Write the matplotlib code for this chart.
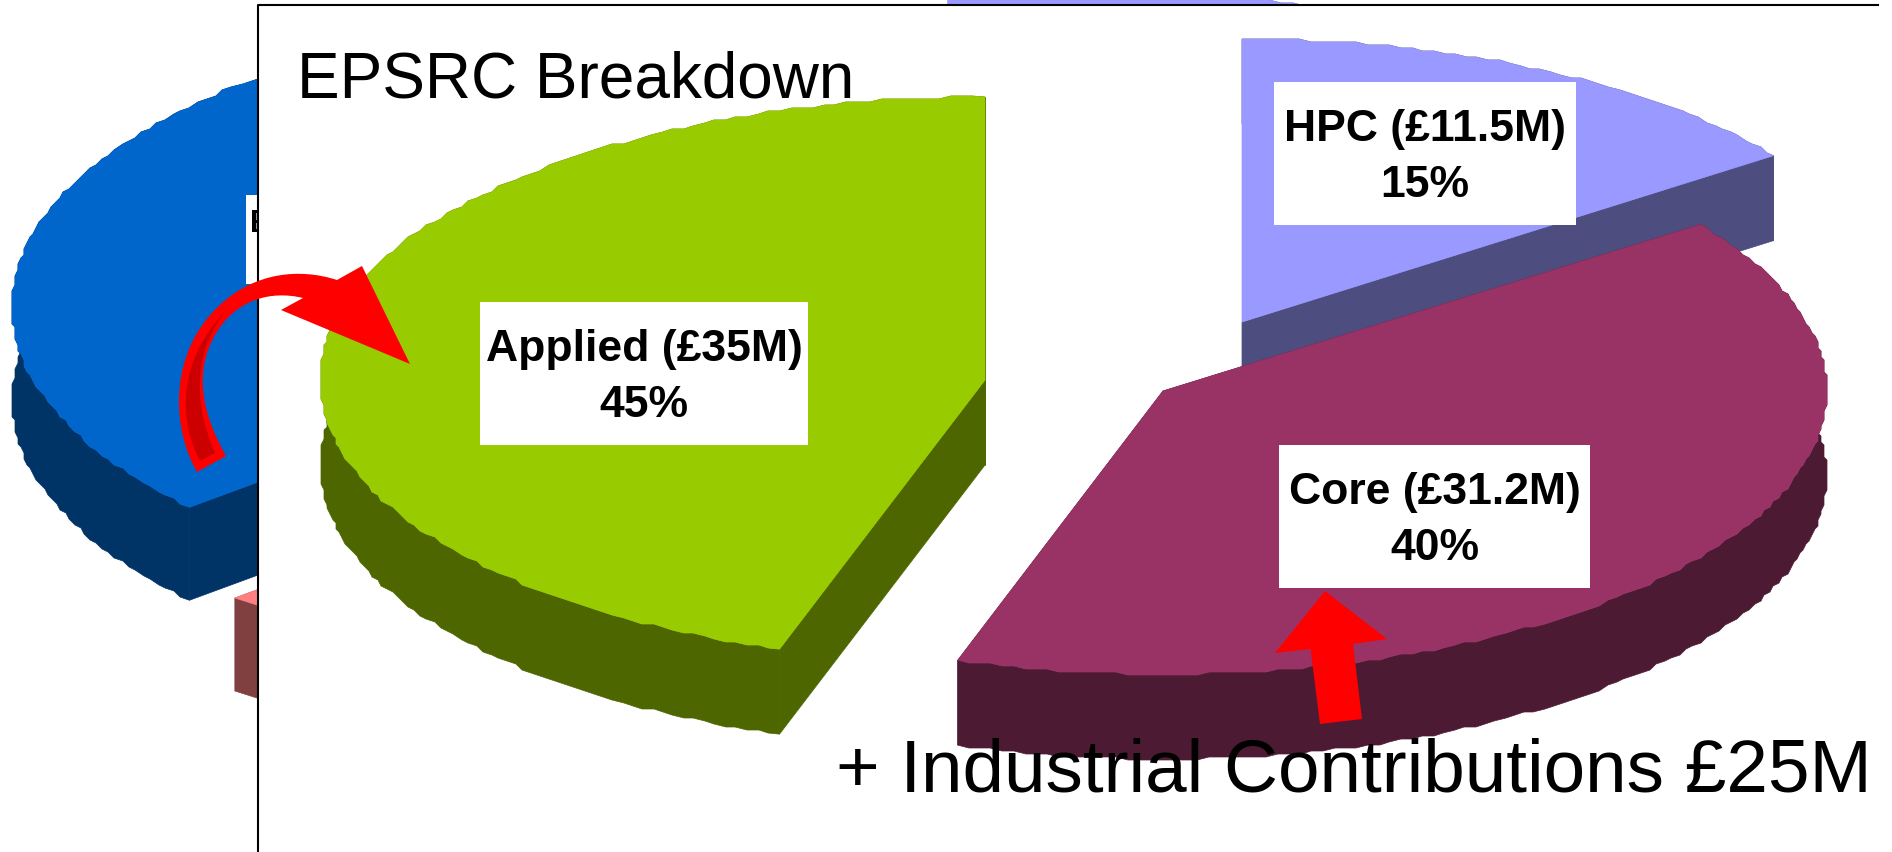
import numpy as np
import matplotlib
matplotlib.use("Agg")
import matplotlib.pyplot as plt
from matplotlib.patches import PathPatch, Polygon, Rectangle
from matplotlib.path import Path

plt.rcParams["font.family"] = ["Liberation Sans", "DejaVu Sans"]

# EPSRC chart, in clockwise order from the top of the pie
slice_names = ["HPC", "Core", "Applied"]
slice_money = ["£11.5M", "£31.2M", "£35M"]
slice_shares = [15, 40, 45]
slice_tops = ["#9999FF", "#993366", "#99CC00"]
slice_sides = ["#4D4D80", "#4D1A33", "#4D6600"]

# slide behind the panel, shares read from the visible edges
back_names = ["Lavender", "Pink", "Blue"]
back_shares = [13.6, 21.7, 31.4]
back_starts = [0, 13.6, 63.6]
back_tops = ["#9999FF", "#FF8080", "#0066CC"]
back_sides = ["#4D4D80", "#804040", "#003366"]

title_text = "EPSRC Breakdown"
extra_text = "+ Industrial Contributions £25M"


def pie_slice(ax, apex, rx, ry, depth, start, share, top, side, z):
    """ one exploded slice of a 3D pie, share and start in percent """
    t = np.radians(np.linspace(start * 3.6, (start + share) * 3.6, int(share * 3.6) + 1))
    xs = apex[0] + rx * np.sin(t)
    ys = apex[1] - ry * np.cos(t)
    # the rim of the original is stepped, not smooth
    xs[1:-1] = np.round(xs[1:-1] / 3) * 3
    ys[1:-1] = np.round(ys[1:-1] / 3) * 3
    rim = np.column_stack([xs, ys])
    drop = np.array([0, depth])
    wall = np.vstack([rim, (rim + drop)[::-1]])
    ax.add_patch(Polygon(wall, closed=True, facecolor=side, edgecolor=side, linewidth=0.5, zorder=z))
    for end in (rim[0], rim[-1]):
        side_wall = [apex, end, end + drop, np.array(apex) + drop]
        ax.add_patch(Polygon(side_wall, closed=True, facecolor=side, edgecolor=side, linewidth=0.5, zorder=z))
    face = np.vstack([[apex], rim])
    ax.add_patch(Polygon(face, closed=True, facecolor=top, edgecolor=top, linewidth=0.5, zorder=z + 0.5))


fig = plt.figure(figsize=(18.92, 8.52), dpi=100)
ax = fig.add_axes([0, 0, 1, 1])
ax.set_xlim(0, 1892)
ax.set_ylim(852, 0)
ax.axis("off")

## backdrop slide
back_apex = [(948, 272), (235, 598), (734, 307)]
for i in range(3):
    pie_slice(ax, back_apex[i], 722, 305, 93, back_starts[i], back_shares[i], back_tops[i], back_sides[i], 1 + i)
ax.add_patch(Rectangle((246, 195), 20, 89, facecolor="white", zorder=5))
ax.text(250, 232, "E", fontsize=22, fontweight="bold", ha="left", va="baseline", zorder=5.5)

## white panel on top, only its left and top border show
ax.add_patch(Rectangle((257.5, 5), 1700, 900, facecolor="white", edgecolor="none", zorder=6))
ax.plot([257.5, 257.5, 1878], [852, 5, 5], color="black", linewidth=1.5, zorder=6.5)

## EPSRC pie
apex = [(1242, 322), (1163, 391), (985, 380)]
radius = [657, 664, 665]
start = 0
for i in range(3):
    pie_slice(ax, apex[i], radius[i], 283, 85, start, slice_shares[i], slice_tops[i], slice_sides[i], 7 + i)
    start = start + slice_shares[i]

## labels
boxes = [(1274, 82, 302, 143), (1279, 445, 311, 143), (480, 302, 328, 143)]
for i in range(3):
    x, y, w, h = boxes[i]
    ax.add_patch(Rectangle((x, y), w, h, facecolor="white", zorder=11))
    ax.text(x + w / 2, y + h / 2 + 4, f"{slice_names[i]} ({slice_money[i]})\n{slice_shares[i]}%",
            fontsize=32, fontweight="bold", ha="center", va="center", linespacing=1.49, zorder=12)

ax.text(297, 98, title_text, fontsize=46, ha="left", va="baseline", zorder=12)
ax.text(836, 792, extra_text, fontsize=53.8, ha="left", va="baseline", zorder=12)

## red arrows
ax.add_patch(Polygon([(1325, 591), (1387, 639), (1353, 644), (1362, 719), (1320, 724), (1310.5, 649), (1275, 653)],
                     closed=True, facecolor="#FF0000", edgecolor="none", zorder=13))

curve_pts = [(197, 472), (170, 425), (170, 350), (220, 305),
             (255, 272), (300, 268), (337, 280),
             (362, 266), (410, 364), (281, 310), (303, 298),
             (270, 290), (235, 300), (215, 335),
             (195, 370), (200, 410), (226, 456), (197, 472)]
curve_codes = [Path.MOVETO, Path.CURVE4, Path.CURVE4, Path.CURVE4,
               Path.CURVE4, Path.CURVE4, Path.CURVE4,
               Path.LINETO, Path.LINETO, Path.LINETO, Path.LINETO,
               Path.CURVE4, Path.CURVE4, Path.CURVE4,
               Path.CURVE4, Path.CURVE4, Path.CURVE4, Path.CLOSEPOLY]
ax.add_patch(PathPatch(Path(curve_pts, curve_codes), facecolor="#FF0000", edgecolor="none", zorder=13))

inner_pts = [(200, 461), (178, 420), (178, 360), (225, 312),
             (195, 350), (192, 400), (215, 453), (200, 461)]
inner_codes = [Path.MOVETO, Path.CURVE4, Path.CURVE4, Path.CURVE4,
               Path.CURVE4, Path.CURVE4, Path.CURVE4, Path.CLOSEPOLY]
ax.add_patch(PathPatch(Path(inner_pts, inner_codes), facecolor="#CC0000", edgecolor="none", zorder=14))

fig.savefig("out.png", dpi=100, facecolor="white")
